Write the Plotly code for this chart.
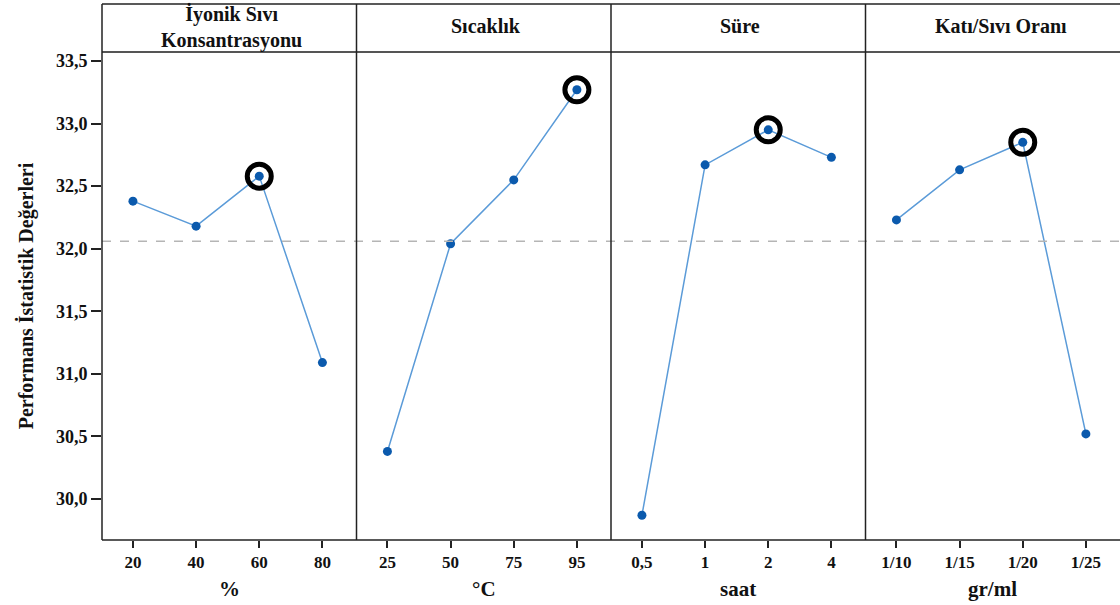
import plotly.graph_objects as go
from plotly.subplots import make_subplots

# ---- data ----
factors = ["İyonik Sıvı<br>Konsantrasyonu", "Sıcaklık", "Süre", "Katı/Sıvı Oranı"]
units = ["%", "°C", "saat", "gr/ml"]
levels_konsantrasyon = ["20", "40", "60", "80"]
levels_sicaklik = ["25", "50", "75", "95"]
levels_sure = ["0,5", "1", "2", "4"]
levels_oran = ["1/10", "1/15", "1/20", "1/25"]
sn_konsantrasyon = [32.38, 32.18, 32.58, 31.09]
sn_sicaklik = [30.38, 32.04, 32.55, 33.27]
sn_sure = [29.87, 32.67, 32.95, 32.73]
sn_oran = [32.23, 32.63, 32.85, 30.52]
overall_mean = 32.06
y_ticks = [30.0, 30.5, 31.0, 31.5, 32.0, 32.5, 33.0, 33.5]

levels = [levels_konsantrasyon, levels_sicaklik, levels_sure, levels_oran]
values = [sn_konsantrasyon, sn_sicaklik, sn_sure, sn_oran]

W, H = 1120, 605
ML, MR, MT, MB = 102, 0, 52, 65
plot_h = H - MT - MB
header_top = 1 + (MT - 4) / plot_h

SERIF = "Liberation Serif"
LINE_C = "#5b9bd8"
DOT_C = "#0b5aad"

fig = make_subplots(rows=1, cols=4, shared_yaxes=True, horizontal_spacing=0)

for i, (lv, vals) in enumerate(zip(levels, values)):
    col = i + 1
    fig.add_trace(go.Scatter(x=lv, y=vals, mode="lines",
                             line=dict(color=LINE_C, width=1.5),
                             showlegend=False, hoverinfo="skip"), row=1, col=col)
    k = max(range(len(vals)), key=lambda j: vals[j])
    fig.add_trace(go.Scatter(x=[lv[k]], y=[vals[k]], mode="markers",
                             marker=dict(symbol="circle-open", size=24, color="black",
                                         line=dict(color="black", width=5)),
                             showlegend=False, hoverinfo="skip"), row=1, col=col)
    fig.add_trace(go.Scatter(x=lv, y=vals, mode="markers",
                             marker=dict(color=DOT_C, size=9),
                             showlegend=False), row=1, col=col)
    fig.update_xaxes(type="category", range=[-0.49, 3.54],
                     ticks="outside", ticklen=7, tickwidth=1.5, tickcolor="#222",
                     tickfont=dict(family=SERIF, size=17, color="#111", weight="bold"),
                     showgrid=False, zeroline=False, showline=False,
                     row=1, col=col)

fig.update_yaxes(range=[29.672, 33.572], tickvals=y_ticks, tickformat=".1f",
                 showgrid=False, zeroline=False, showline=False)
fig.update_yaxes(ticks="outside", ticklen=10, tickwidth=1.5, tickcolor="#222",
                 tickfont=dict(family=SERIF, size=18, color="#111", weight="bold"),
                 title=dict(text="Performans İstatistik Değerleri",
                            font=dict(family=SERIF, size=20, color="#111", weight="bold"),
                            standoff=16),
                 row=1, col=1)

shapes = []
# dashed mean line
shapes.append(dict(type="line", xref="paper", yref="y", x0=0, x1=1,
                   y0=overall_mean, y1=overall_mean,
                   line=dict(color="#b5b5b5", width=1.5, dash="dash")))
# frame lines
shapes.append(dict(type="line", xref="paper", yref="paper", x0=0, x1=1,
                   y0=header_top, y1=header_top, line=dict(color="#222", width=1.5)))
shapes.append(dict(type="line", xref="paper", yref="paper", x0=0, x1=1,
                   y0=1, y1=1, line=dict(color="#555", width=2)))
shapes.append(dict(type="line", xref="paper", yref="paper", x0=0, x1=1,
                   y0=0, y1=0, line=dict(color="#222", width=1.5)))
for xb in [0, 0.25, 0.5, 0.75]:
    shapes.append(dict(type="line", xref="paper", yref="paper", x0=xb, x1=xb,
                       y0=0, y1=header_top, line=dict(color="#222", width=1.5)))

annotations = []
header_y = [1 + 25 / plot_h, 1 + 26 / plot_h, 1 + 26 / plot_h, 1 + 26 / plot_h]
header_x = [0.127, 0.377, 0.627, 0.883]
for i, (f, u) in enumerate(zip(factors, units)):
    cx = 0.125 + 0.25 * i
    annotations.append(dict(text=f, x=header_x[i], y=header_y[i], xref="paper", yref="paper",
                            showarrow=False, xanchor="center", yanchor="middle",
                            font=dict(family=SERIF, size=20, color="#111", weight="bold")))
    annotations.append(dict(text=u, x=cx, y=-49 / plot_h, xref="paper", yref="paper",
                            showarrow=False, xanchor="center", yanchor="middle",
                            font=dict(family=SERIF, size=21, color="#111", weight="bold")))

fig.update_layout(width=W, height=H, margin=dict(l=ML, r=MR, t=MT, b=MB),
                  paper_bgcolor="white", plot_bgcolor="white",
                  separators=",.", shapes=shapes, annotations=annotations,
                  showlegend=False)

fig.write_html("out.html", config={"displayModeBar": False},
               post_script="document.body.style.margin='0';")
